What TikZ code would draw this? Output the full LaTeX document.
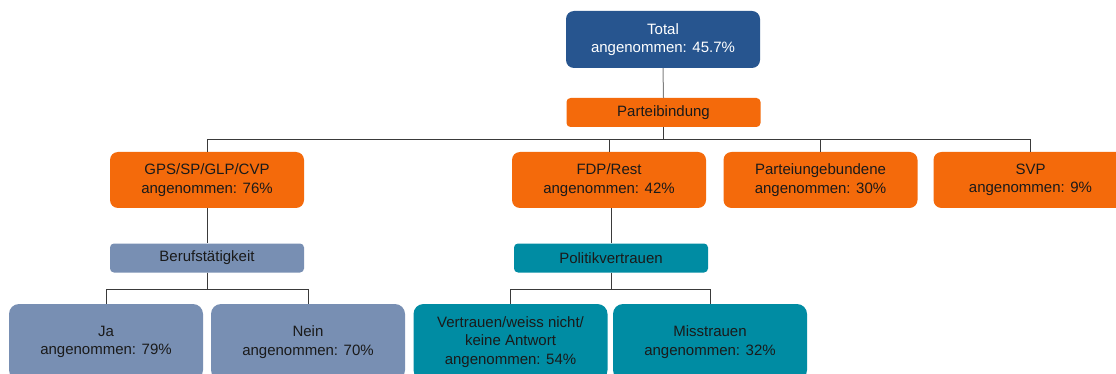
\documentclass[tikz,border=0pt]{standalone}
\usepackage{fontspec}
\setmainfont{Liberation Sans}
\definecolor{cBlue}{HTML}{27558F}
\definecolor{cOrange}{HTML}{F46A0B}
\definecolor{cSlate}{HTML}{788FB3}
\definecolor{cTeal}{HTML}{008CA3}
\definecolor{cText}{HTML}{1A1A1A}
\definecolor{cLine}{HTML}{3A3A3A}
\begin{document}
\begin{tikzpicture}[x=1pt,y=-1pt,
  box/.style={rounded corners=8pt, minimum width=194pt, minimum height=56pt, inner sep=0pt,
     align=center, text=cText, font=\fontsize{15}{18.5}\selectfont},
  bar/.style={rounded corners=4pt, minimum width=194pt, minimum height=29pt, inner sep=0pt,
     align=center, text=cText, font=\fontsize{15}{18.5}\selectfont},
  leaf/.style={box, minimum height=76pt, rounded corners=10pt},
  conn/.style={draw=cLine, line width=1pt}]
\useasboundingbox (0,0) rectangle (1116,374);
\fill[white] (0,0) rectangle (1116,374);

\node[box, fill=cBlue, text=white, minimum height=57pt] (total) at (663,39.5) {Total\\angenommen: 45.7\%};
\node[bar, fill=cOrange] (pb) at (663.5,112.5) {Parteibindung};

\node[box, fill=cOrange] (gps) at (207,180) {GPS/SP/GLP/CVP\\angenommen: 76\%};
\node[box, fill=cOrange] (fdp) at (609,180) {FDP/Rest\\angenommen: 42\%};
\node[box, fill=cOrange] (pu) at (820.5,180) {Parteiungebundene\\angenommen: 30\%};
\node[box, fill=cOrange] (svp) at (1030.5,180) {SVP\\angenommen: 9\%};

\node[bar, fill=cSlate] (beruf) at (207,258) {Berufstätigkeit};
\node[bar, fill=cTeal] (polit) at (611,258) {Politikvertrauen};

\node[leaf, fill=cSlate] (ja) at (106,342) {Ja\\angenommen: 79\%};
\node[leaf, fill=cSlate] (nein) at (308,342) {Nein\\angenommen: 70\%};
\node[leaf, fill=cTeal] (vert) at (510.5,342) {Vertrauen/weiss nicht/\\keine Antwort\\angenommen: 54\%};
\node[leaf, fill=cTeal] (miss) at (710,342) {Misstrauen\\angenommen: 32\%};

\draw[conn, draw=gray] (total.south) -- (pb.north);
\foreach \c in {gps,fdp,pu,svp}{
  \draw[conn] (pb.south) -- (pb.south |- 0,139.5) -| (\c.north);
}
\draw[conn] (gps.south) -- (beruf.north);
\draw[conn] (fdp.south -| polit.north) -- (polit.north);
\foreach \c in {ja,nein}{
  \draw[conn] (beruf.south) -- (beruf.south |- 0,289) -| (\c.north);
}
\foreach \c in {vert,miss}{
  \draw[conn] (polit.south) -- (polit.south |- 0,289) -| (\c.north);
}
\end{tikzpicture}
\end{document}
